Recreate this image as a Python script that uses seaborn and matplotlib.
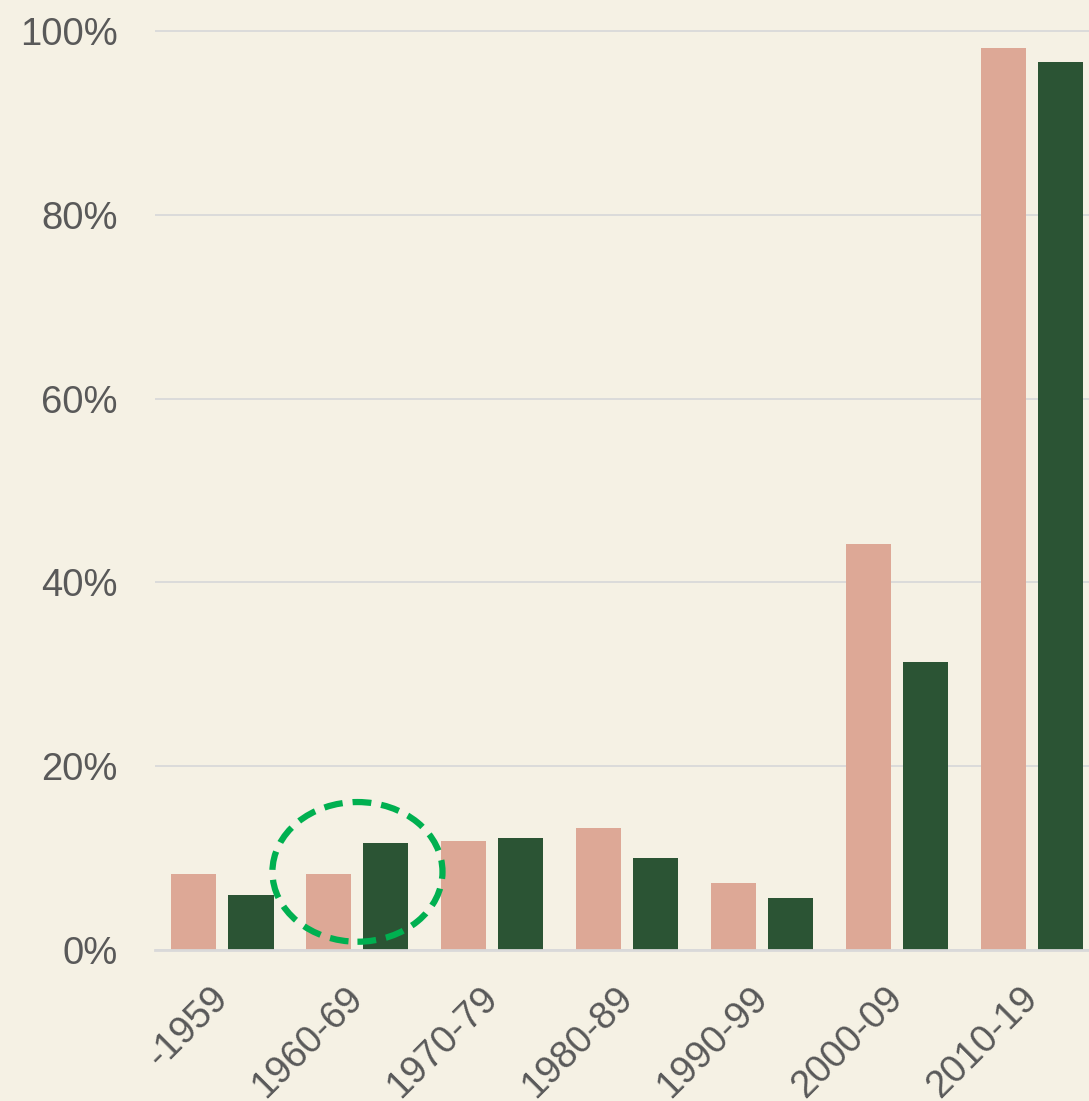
import matplotlib
matplotlib.use("Agg")
import matplotlib.pyplot as plt
from matplotlib.patches import Ellipse
from matplotlib.ticker import PercentFormatter
import pandas as pd
import seaborn as sns

# decades on the x axis
decades = ["-1959", "1960-69", "1970-79", "1980-89", "1990-99", "2000-09", "2010-19"]
# two series, values in percent
series_pink = [8.3, 8.3, 11.9, 13.3, 7.3, 44.2, 98.1]
series_green = [6.0, 11.6, 12.2, 10.0, 5.7, 31.3, 96.6]
series_names = ["Series 1", "Series 2"]
y_ticks = [0, 20, 40, 60, 80, 100]

BG = "#F5F1E4"
PINK = "#DDA896"
GREEN = "#2B5434"
GRID = "#D9D9D9"
TEXT = "#595959"

df = pd.DataFrame({
    "decade": decades * 2,
    "value": series_pink + series_green,
    "series": [series_names[0]] * len(decades) + [series_names[1]] * len(decades),
})

sns.set_style("white")
plt.rcParams["font.family"] = ["Liberation Sans", "DejaVu Sans"]

fig = plt.figure(figsize=(10.89, 11.01), dpi=100)
fig.patch.set_facecolor(BG)
ax = fig.add_axes([155 / 1089, 1 - 950 / 1101, 1 - 155 / 1089, (950 - 20) / 1101])
ax.set_facecolor(BG)

sns.barplot(data=df, x="decade", y="value", hue="series", order=decades,
            palette=[PINK, GREEN], width=0.845, gap=0.21, legend=False,
            saturation=1, linewidth=0, ax=ax)

ax.set_ylim(0, 101.2)
ax.set_xlim(-0.5, 6.42)
ax.set_yticks(y_ticks)
ax.yaxis.set_major_formatter(PercentFormatter(decimals=0))
ax.grid(axis="y", color=GRID, linewidth=1.3)
ax.set_axisbelow(True)
for side in ["top", "right", "left"]:
    ax.spines[side].set_visible(False)
ax.spines["bottom"].set_color(GRID)
ax.spines["bottom"].set_linewidth(2)
ax.set_xlabel("")
ax.set_ylabel("")
ax.tick_params(axis="y", length=0, pad=27, labelsize=27.5, labelcolor=TEXT)
ax.tick_params(axis="x", length=0, pad=31, labelsize=27.5, labelcolor=TEXT)
for lbl in ax.get_xticklabels():
    lbl.set_rotation(45)
    lbl.set_ha("right")
    lbl.set_va("center")
    lbl.set_rotation_mode("anchor")

# dashed highlight around the 1960-69 group
ax.add_patch(Ellipse((1.0, 8.5), 1.26, 15.2, fill=False, edgecolor="#00B050",
                     linewidth=4.5, linestyle=(0, (3, 1.6)), zorder=5, clip_on=False))

fig.savefig("out.png", dpi=100, facecolor=BG)
